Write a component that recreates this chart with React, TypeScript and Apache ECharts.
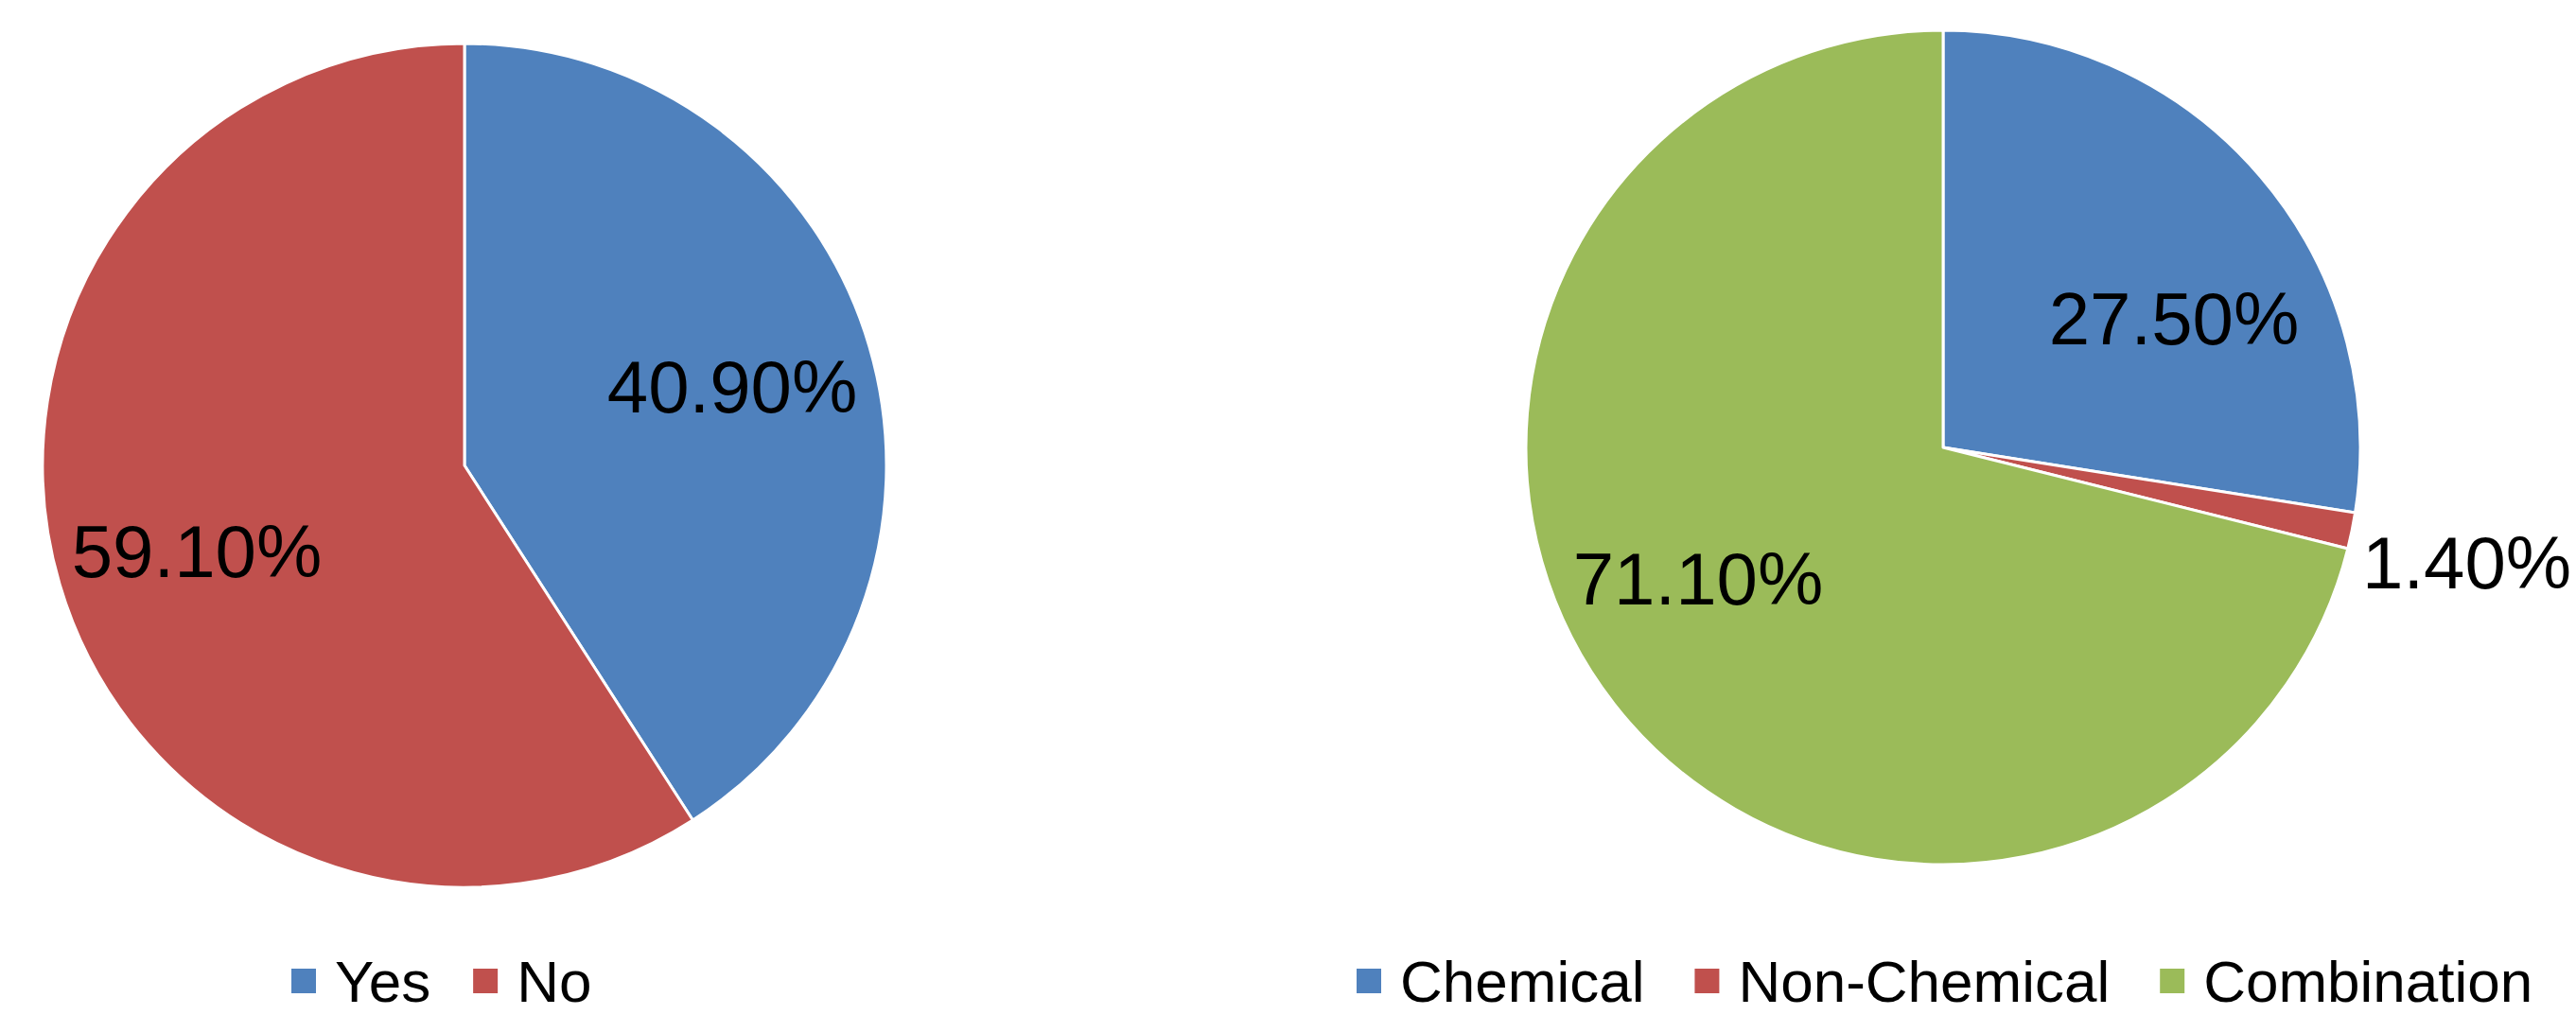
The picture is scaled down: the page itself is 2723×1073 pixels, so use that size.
import React, { useEffect, useRef } from 'react';
import * as echarts from 'echarts';

// ---- data ----
const yesNoCategories = ['Yes', 'No'];
const yesNoValues = [40.9, 59.1];
const methodCategories = ['Chemical', 'Non-Chemical', 'Combination'];
const methodValues = [27.5, 1.4, 71.1];

// ---- style ----
const COLORS = ['#4F81BD', '#C0504D', '#9BBB59'];
const FONT = "'Liberation Sans', Arial, sans-serif";
const LABEL_SIZE = 78;
const LEGEND_SIZE = 62;
const LEFT_CENTER = [491, 492];
const LEFT_R = 446;
const RIGHT_CENTER = [2054, 473];
const RIGHT_R = 441;
const LEFT_LABEL_NUDGE = [[0, 0], [0, 8]];
const RIGHT_LABEL_NUDGE = [[25, 51], [-2, 9], [-32, -38]];

export default function App() {
  const ref = useRef<HTMLDivElement>(null);
  useEffect(() => {
    document.body.style.margin = '0';
    const chart = echarts.init(ref.current as HTMLDivElement, undefined, { renderer: 'svg' });
    const fmt = (p: any) => Number(p.value).toFixed(2) + '%';
    const build = (names: string[], values: number[]) =>
      names.map((n, i) => ({ name: n, value: values[i], itemStyle: { color: COLORS[i] } }));
    const transparent = (names: string[], values: number[], shown: (i: number) => boolean) =>
      build(names, values).map((d, i) => ({
        ...d,
        itemStyle: { color: 'rgba(0,0,0,0)' },
        label: { show: shown(i) },
      }));

    const labelStyle = {
      color: '#000',
      fontFamily: FONT,
      fontSize: LABEL_SIZE,
      formatter: fmt,
    };
    const legendText = {
      fontFamily: FONT,
      fontSize: LEGEND_SIZE,
      lineHeight: LEGEND_SIZE,
      color: '#000',
      padding: [0, 0, 0, 14],
    };

    const labelLayer = (center: number[], outer: number, names: string[], values: number[], shown: (i: number) => boolean, nudge: number[][]) => ({
      type: 'pie',
      center,
      radius: [0, outer],
      startAngle: 90,
      clockwise: true,
      silent: true,
      z: 5,
      data: transparent(names, values, shown),
      itemStyle: { borderWidth: 0 },
      label: { show: true, position: 'inside', ...labelStyle },
      labelLine: { show: false },
      emphasis: { disabled: true },
      labelLayout: (p: any) => ({ dx: nudge[p.dataIndex][0], dy: nudge[p.dataIndex][1] }),
    });

    const option: any = {
      animation: false,
      backgroundColor: '#fff',
      legend: [
        {
          data: yesNoCategories,
          left: 306,
          top: 1006,
          padding: 0,
          itemWidth: 28,
          itemHeight: 28,
          itemGap: 43,
          icon: 'rect',
          selectedMode: false,
          textStyle: legendText,
        },
        {
          data: methodCategories,
          left: 1432,
          top: 1006,
          padding: 0,
          itemWidth: 28,
          itemHeight: 28,
          itemGap: 51,
          icon: 'rect',
          selectedMode: false,
          textStyle: legendText,
        },
      ],
      series: [
        {
          type: 'pie',
          center: LEFT_CENTER,
          radius: LEFT_R,
          startAngle: 90,
          clockwise: true,
          silent: true,
          data: build(yesNoCategories, yesNoValues),
          itemStyle: { borderColor: '#fff', borderWidth: 3 },
          label: { show: false },
          labelLine: { show: false },
          emphasis: { disabled: true },
        },
        {
          type: 'pie',
          center: RIGHT_CENTER,
          radius: RIGHT_R,
          startAngle: 90,
          clockwise: true,
          silent: true,
          data: build(methodCategories, methodValues),
          itemStyle: { borderColor: '#fff', borderWidth: 3 },
          label: { show: false },
          labelLine: { show: false },
          emphasis: { disabled: true },
        },
        // transparent label layers: inside labels sit at half the layer's outer radius
        labelLayer(LEFT_CENTER, 584, yesNoCategories, yesNoValues, () => true, LEFT_LABEL_NUDGE),
        labelLayer(RIGHT_CENTER, 570, methodCategories, methodValues, (i) => i !== 1, RIGHT_LABEL_NUDGE),
        labelLayer(RIGHT_CENTER, 1128, methodCategories, methodValues, (i) => i === 1, RIGHT_LABEL_NUDGE),
      ],
    };
    chart.setOption(option);
    return () => chart.dispose();
  }, []);
  return <div ref={ref} style={{ position: 'absolute', left: 0, top: 0, width: 2723, height: 1073 }} />;
}
